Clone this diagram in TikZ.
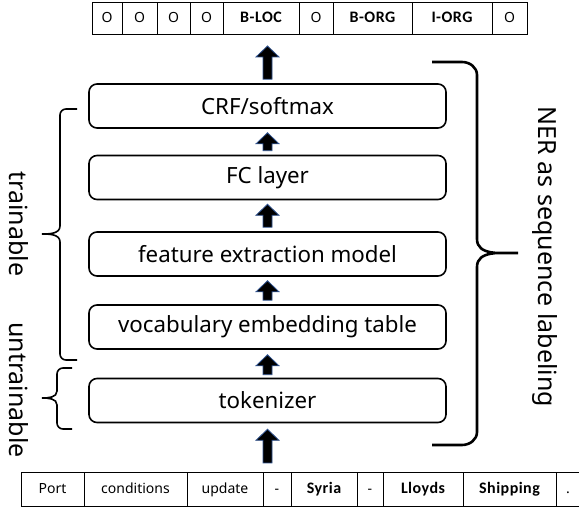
\documentclass[tikz,border=0pt]{standalone}
\usepackage{fontspec}
\usetikzlibrary{positioning,calc}

\newfontfamily\lblfont{Noto Sans}
\newfontfamily\tagfont{Carlito}[LetterSpace=3]
\definecolor{arrowblue}{HTML}{2F528F}

% block arrow between two points: start, end, gap at start, gap at end
\newcommand{\blockarrow}[4]{%
	\path[blockarr] let \p1=(#1), \p2=(#2) in
		({\x1-4.5pt},{\y1+#3pt}) -- ({\x1+4.5pt},{\y1+#3pt}) -- ({\x1+4.5pt},{\y2-#4pt-11pt})
		-- ({\x1+11.5pt},{\y2-#4pt-11pt}) -- ({\x1},{\y2-#4pt}) -- ({\x1-11.5pt},{\y2-#4pt-11pt})
		-- ({\x1-4.5pt},{\y2-#4pt-11pt}) -- cycle;
}

\begin{document}
\begin{tikzpicture}[x=1pt, y=1pt,
	layer/.style={draw, rounded corners=8pt, line width=1.6pt, minimum width=357pt, minimum height=44pt, inner sep=0pt, font=\lblfont\fontsize{22.3}{26}\selectfont},
	cell/.style={draw, line width=1pt, inner sep=0pt, outer sep=0pt, text height=10pt, text depth=3pt, font=\lblfont\fontsize{14}{16}\selectfont},
	tagcell/.style={cell, font=\tagfont\bfseries\fontsize{16}{18}\selectfont},
	blockarr/.style={draw=arrowblue, fill=black, line width=0.8pt},
	bracket/.style={line width=1.6pt},
	side/.style={rotate=-90, font=\lblfont\fontsize{25}{29}\selectfont}]
	\fill[white] (0,0) rectangle (579,509);
	\clip (0,0) rectangle (579,509);

	% output tags
	\node[cell, minimum height=32pt, minimum width=30pt, anchor=west] at (92,490) (t1) {O};
	\node[cell, minimum height=32pt, minimum width=35pt, right=0pt of t1] (t2) {O};
	\node[cell, minimum height=32pt, minimum width=33pt, right=0pt of t2] (t3) {O};
	\node[cell, minimum height=32pt, minimum width=33pt, right=0pt of t3] (t4) {O};
	\node[tagcell, minimum height=32pt, minimum width=76pt, right=0pt of t4] (t5) {B-LOC};
	\node[cell, minimum height=32pt, minimum width=34pt, right=0pt of t5] (t6) {O};
	\node[tagcell, minimum height=32pt, minimum width=79pt, right=0pt of t6] (t7) {B-ORG};
	\node[tagcell, minimum height=32pt, minimum width=80pt, right=0pt of t7] (t8) {I-ORG};
	\node[cell, minimum height=32pt, minimum width=35pt, right=0pt of t8] (t9) {O};

	% layers
	\node[layer] at (267.5,403) (crf) {CRF/softmax};
	\node[layer] at (267.5,331.5) (fc) {FC layer};
	\node[layer] at (267.5,255) (feat) {feature extraction model};
	\node[layer] at (267.5,182) (voc) {vocabulary embedding table};
	\node[layer] at (267.5,108.5) (tok) {tokenizer};

	% input words
	\node[cell, minimum height=34pt, minimum width=63pt, anchor=west] at (21,19) (w1) {Port};
	\node[cell, minimum height=34pt, minimum width=103pt, right=0pt of w1] (w2) {conditions};
	\node[cell, minimum height=34pt, minimum width=76pt, right=0pt of w2] (w3) {update};
	\node[cell, minimum height=34pt, minimum width=28pt, right=0pt of w3] (w4) {-};
	\node[tagcell, minimum height=34pt, minimum width=66pt, right=0pt of w4] (w5) {Syria};
	\node[cell, minimum height=34pt, minimum width=26pt, right=0pt of w5] (w6) {-};
	\node[tagcell, minimum height=34pt, minimum width=80pt, right=0pt of w6] (w7) {Lloyds};
	\node[tagcell, minimum height=34pt, minimum width=93pt, right=0pt of w7] (w8) {Shipping};
	\node[cell, minimum height=34pt, minimum width=24pt, right=0pt of w8] (w9) {.};

	% arrows
	\blockarrow{tok.south |- w1.north}{tok.south}{10}{6}
	\blockarrow{tok.north}{voc.south}{3}{5}
	\blockarrow{voc.north}{feat.south}{4}{4}
	\blockarrow{feat.north}{fc.south}{4}{4}
	\blockarrow{fc.north}{crf.south}{4}{4}
	\blockarrow{crf.north}{crf.north |- t1.south}{4}{11}

	% braces
	\draw[bracket] (77,400) -- (66,400) to[out=180,in=90] (60,394) -- (60,283) to[out=-90,in=0] (42,275)
		to[out=0,in=90] (60,267) -- (60,155) to[out=-90,in=180] (66,149) -- (77,149);
	\draw[bracket] (72,141) -- (63,141) to[out=180,in=90] (57,135) -- (57,118) to[out=-90,in=0] (42,111)
		to[out=0,in=90] (57,104) -- (57,86) to[out=-90,in=180] (63,80) -- (72,80);
	\draw[bracket, line width=2.6pt] (432,447) -- (462,447) to[out=0,in=90] (477,434) -- (477,270) to[out=-90,in=180] (518,256)
		to[out=180,in=90] (477,242) -- (477,77) to[out=-90,in=0] (462,64) -- (432,64);

	\node[side] at (19,285) (train) {trainable};
	\node[side] at (19,119) (untrain) {untrainable};
	\node[side] at (545,252) (ner) {NER as sequence labeling};
\end{tikzpicture}
\end{document}
